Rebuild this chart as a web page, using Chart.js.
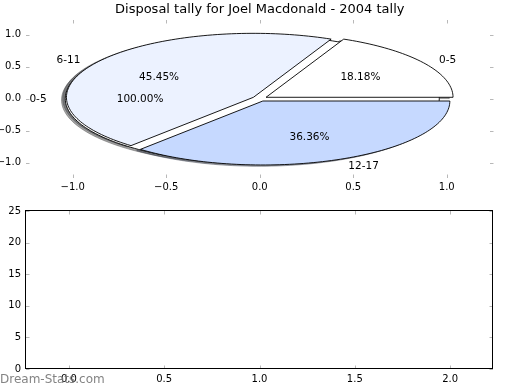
<!DOCTYPE html>
<html>
<head>
<meta charset="utf-8">
<script src="https://cdn.jsdelivr.net/npm/chart.js@4.4.1/dist/chart.umd.min.js"></script>
<style>
  html, body { margin: 0; padding: 0; background: #fff; }
  #wrap { position: relative; width: 520px; height: 390px; overflow: hidden; }
  canvas { position: absolute; left: 0; }
  #pie { top: 0; }
  #empty { top: 200px; }
</style>
</head>
<body>
<div id="wrap">
  <canvas id="pie" width="520" height="200"></canvas>
  <canvas id="empty" width="520" height="190"></canvas>
</div>
<script>
const chartTitle = 'Disposal tally for Joel Macdonald - 2004 tally';
const ageGroups = ['0-5', '6-11', '12-17'];
const firstTally = [2];        // first pie: one wedge, 100.00%
const disposals = [2, 5, 4];   // 18.18%, 45.45%, 36.36%
const sliceColors = ['#ffffff', '#ecf2ff', '#c6d9ff'];
const pieTicks = [-1.0, -0.5, 0.0, 0.5, 1.0];
const barXTicks = [0.0, 0.5, 1.0, 1.5, 2.0];
const barYTicks = [0, 5, 10, 15, 20, 25];
const barValues = [];          // nothing is plotted in the lower panel

const explode = 0.04;
const labelFont = '10.5px "DejaVu Sans", sans-serif';
Chart.defaults.font.family = '"DejaVu Sans", sans-serif';
Chart.defaults.font.size = 10;
Chart.defaults.color = '#000';

function fmt(v) {
    return (v < 0 ? '\u2212' : '') + Math.abs(v).toFixed(1);
}

function shadowOf(hex) {
    const n = parseInt(hex.slice(1), 16);
    const r = Math.round(((n >> 16) & 255) * 0.3);
    const g = Math.round(((n >> 8) & 255) * 0.3);
    const b = Math.round((n & 255) * 0.3);
    return `rgba(${r},${g},${b},0.5)`;
}

// matplotlib style pie: wedges laid out by the pie controller, drawn in data space of the x/y scales
const ellipsePie = {
    id: 'ellipsePie',
    beforeDatasetsDraw(chart) {
        const { ctx, scales: { x, y } } = chart;
        const toPx = (dx, dy) => [x.getPixelForValue(dx), y.getPixelForValue(dy)];
        const wedges = [];
        chart.getSortedVisibleDatasetMetas().forEach(meta => {
            const ds = chart.data.datasets[meta.index];
            const total = ds.data.reduce((s, v) => s + v, 0);
            meta.data.forEach((arc, i) => {
                const mid = (arc.startAngle + arc.endAngle) / 2;
                wedges.push({
                    start: arc.startAngle,
                    end: arc.endAngle,
                    mid,
                    cx: explode * Math.cos(mid),
                    cy: explode * Math.sin(mid),
                    color: ds.backgroundColor[i],
                    label: chart.data.labels[i],
                    pct: (ds.data[i] / total * 100).toFixed(2) + '%'
                });
            });
        });

        function trace(w, sx, sy) {
            const span = w.end - w.start;
            const full = span >= 2 * Math.PI - 1e-6;
            const steps = Math.max(8, Math.ceil(span / (Math.PI / 120)));
            ctx.beginPath();
            if (!full) {
                const [px, py] = toPx(w.cx + sx, w.cy + sy);
                ctx.moveTo(px, py);
            }
            for (let k = 0; k <= steps; k++) {
                const t = w.start + span * k / steps;
                const [px, py] = toPx(w.cx + sx + Math.cos(t), w.cy + sy + Math.sin(t));
                if (k === 0 && full) ctx.moveTo(px, py); else ctx.lineTo(px, py);
            }
            ctx.closePath();
        }

        ctx.save();
        ctx.lineWidth = 0.9;
        // shadows first, all of them
        wedges.forEach(w => {
            trace(w, -0.02, -0.02);
            ctx.fillStyle = shadowOf(w.color);
            ctx.strokeStyle = shadowOf(w.color);
            ctx.fill();
            ctx.stroke();
        });
        wedges.forEach(w => {
            trace(w, 0, 0);
            ctx.fillStyle = w.color;
            ctx.strokeStyle = '#000';
            ctx.fill();
            ctx.stroke();
        });
        // texts on top
        ctx.fillStyle = '#000';
        ctx.font = labelFont;
        ctx.textBaseline = 'middle';
        wedges.forEach(w => {
            const lx = w.cx + 1.1 * Math.cos(w.mid);
            const ly = w.cy + 1.1 * Math.sin(w.mid);
            const [px, py] = toPx(lx, ly);
            ctx.textAlign = lx > 0 ? 'left' : 'right';
            ctx.fillText(w.label, px, py + 1);
            const [qx, qy] = toPx(w.cx + 0.6 * Math.cos(w.mid), w.cy + 0.6 * Math.sin(w.mid));
            ctx.textAlign = 'center';
            ctx.fillText(w.pct, qx, qy + 1);
        });
        ctx.restore();
        return false;
    }
};

// short grey tick marks pointing into the axes on all four sides
const innerTicks = {
    id: 'innerTicks',
    afterDraw(chart, args, opts) {
        const { ctx, chartArea: a, scales: { x, y } } = chart;
        const len = 3.5;
        ctx.save();
        ctx.strokeStyle = '#b8b8b8';
        ctx.lineWidth = 1;
        ctx.beginPath();
        x.ticks.forEach(t => {
            const px = Math.round(x.getPixelForValue(t.value)) + 0.5;
            ctx.moveTo(px, a.top); ctx.lineTo(px, a.top + len);
            ctx.moveTo(px, a.bottom); ctx.lineTo(px, a.bottom - len);
        });
        y.ticks.forEach(t => {
            const py = Math.round(y.getPixelForValue(t.value)) + 0.5;
            ctx.moveTo(a.left, py); ctx.lineTo(a.left + len, py);
            ctx.moveTo(a.right, py); ctx.lineTo(a.right - len, py);
        });
        ctx.stroke();
        if (opts.frame) {
            ctx.strokeStyle = '#000';
            ctx.strokeRect(Math.round(a.left) - 0.5, Math.round(a.top) - 0.5,
                Math.round(a.right) - Math.round(a.left), Math.round(a.bottom) - Math.round(a.top));
        }
        ctx.restore();
    }
};

const watermark = {
    id: 'watermark',
    afterDraw(chart) {
        const { ctx } = chart;
        ctx.save();
        ctx.font = '12px "DejaVu Sans", sans-serif';
        ctx.fillStyle = 'rgba(118,118,118,0.9)';
        ctx.textAlign = 'left';
        ctx.textBaseline = 'alphabetic';
        ctx.fillText('Dream-Stats.com', 0, 182.5);
        ctx.restore();
    }
};

function axis(min, max, tickValues, label, extra) {
    return Object.assign({
        type: 'linear',
        min: min,
        max: max,
        grid: { display: false, drawTicks: false },
        border: { display: false },
        ticks: { callback: label, padding: 5, font: { size: 10 } },
        afterBuildTicks: s => { s.ticks = tickValues.map(v => ({ value: v })); }
    }, extra);
}

new Chart(document.getElementById('pie'), {
    type: 'pie',
    data: {
        labels: ageGroups,
        datasets: [
            { data: firstTally, backgroundColor: sliceColors, rotation: 90 },
            { data: disposals, backgroundColor: sliceColors, rotation: 90 }
        ]
    },
    options: {
        responsive: false,
        animation: false,
        events: [],
        layout: { padding: { left: 0, right: 26.5, top: 0, bottom: 0 } },
        scales: {
            x: axis(-1.25, 1.25, pieTicks, v => fmt(v), {
                position: 'bottom',
                ticks: { callback: v => fmt(v), padding: 3, font: { size: 10 } },
                afterFit: s => { s.height = 22; }
            }),
            y: axis(-1.24, 1.23, pieTicks, v => fmt(v), {
                position: 'left',
                afterFit: s => { s.width = 26; }
            })
        },
        plugins: {
            legend: { display: false },
            tooltip: { enabled: false },
            title: {
                display: true,
                fullSize: false,
                text: chartTitle,
                color: '#000',
                font: { size: 13, weight: 'normal' },
                padding: { top: 2, bottom: 2.4 }
            },
            innerTicks: { frame: false }
        }
    },
    plugins: [ellipsePie, innerTicks]
});

new Chart(document.getElementById('empty'), {
    type: 'scatter',
    data: { datasets: [{ data: barValues }] },
    options: {
        responsive: false,
        animation: false,
        events: [],
        layout: { padding: { left: 0, right: 27, top: 11, bottom: 0 } },
        scales: {
            x: axis(-0.225, 2.225, barXTicks, v => v.toFixed(1), {
                position: 'bottom',
                ticks: { callback: v => v.toFixed(1), padding: 4, font: { size: 10 } },
                afterFit: s => { s.height = 21; }
            }),
            y: axis(0, 25, barYTicks, v => String(v), {
                position: 'left',
                afterFit: s => { s.width = 26; }
            })
        },
        plugins: {
            legend: { display: false },
            tooltip: { enabled: false },
            innerTicks: { frame: true }
        }
    },
    plugins: [innerTicks, watermark]
});
</script>
</body>
</html>
